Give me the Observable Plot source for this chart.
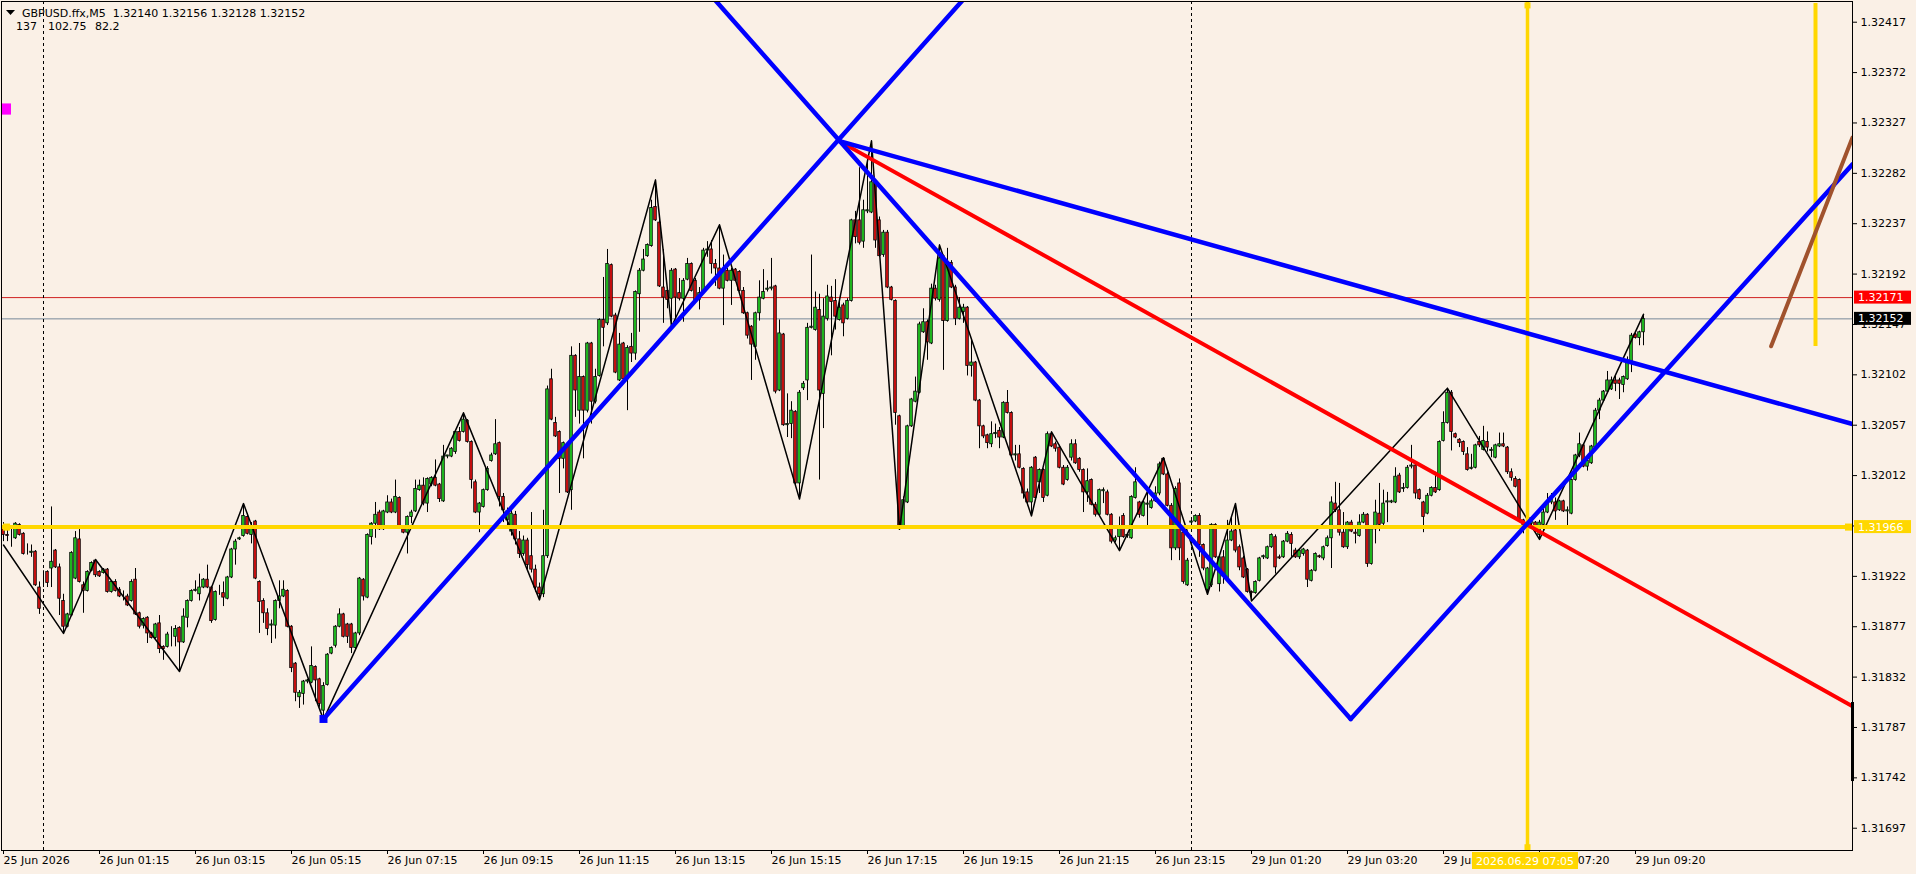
<!DOCTYPE html>
<html><head><meta charset="utf-8">
<script src="https://cdn.jsdelivr.net/npm/d3@7"></script>
<script src="https://cdn.jsdelivr.net/npm/@observablehq/plot@0.6"></script>
<style>
html,body{margin:0;padding:0;background:#FAF0E6;}
#chart{width:1916px;height:874px;overflow:hidden;}
</style></head><body><div id="chart"></div>
<script>
// Prices are stored as points (0.00001) above BASE
const BASE = 1.317;
const OPEN = [264,259,256,256,268,260,243,243,244,212,
226,226,229,245,230,200,177,187,220,255,
214,209,227,236,226,225,228,208,217,210,
204,204,200,219,189,178,185,171,167,180,
159,159,169,168,176,163,185,200,209,206,
212,219,212,183,207,207,202,221,246,255,
258,275,259,271,217,200,189,178,178,200,
204,209,177,144,114,117,128,127,141,130,
102,125,153,160,177,188,179,179,158,171,
219,203,257,269,279,264,279,288,279,292,
264,261,275,280,299,303,287,304,310,304,
289,329,329,333,351,351,361,342,306,279,
284,299,325,331,341,293,272,262,277,255,
242,254,240,228,212,206,240,398,359,351,
327,339,299,419,370,400,370,430,378,401,
451,448,500,455,397,430,398,427,421,474,
495,508,517,552,538,480,477,470,496,475,
470,487,501,486,469,475,513,514,501,497,
479,495,486,496,494,477,457,445,427,457,
470,478,479,481,388,438,357,358,369,305,
390,397,444,442,460,385,452,471,468,451,
464,452,468,540,540,521,548,547,574,540,
509,529,480,468,365,266,288,356,378,386,
440,449,430,479,469,508,450,502,480,452,
458,462,410,413,379,356,348,340,349,352,
346,377,368,330,331,318,297,288,328,306,
317,294,349,340,337,319,308,328,340,327,
317,297,308,286,277,298,297,277,254,257,
276,258,256,292,288,276,286,283,289,296,
327,313,285,247,305,261,214,270,271,276,
250,210,214,268,215,239,220,254,263,248,
238,228,208,207,218,239,238,248,257,239,
239,253,259,245,239,242,245,218,227,240,
238,249,256,287,281,261,248,270,261,258,
270,277,233,264,278,269,288,288,288,312,
300,301,320,321,299,288,278,294,301,299,
343,359,386,349,344,342,331,318,319,342,
335,342,334,328,338,340,337,315,309,308,
272,269,269,270,259,268,279,288,288,281,
289,280,278,308,330,339,320,323,337,370,
379,387,389,397,397,393,398,414,438,435,
440];
const HIGH = [270,263,267,270,269,261,251,250,245,217,
227,227,284,246,233,206,189,244,262,266,
217,227,235,237,227,229,229,218,219,212,
209,206,219,229,190,185,186,172,180,187,
160,172,177,178,177,193,201,210,218,224,
220,232,213,209,214,217,222,247,255,257,
287,278,270,272,218,202,193,183,201,218,
218,210,178,145,120,129,130,159,142,131,
127,153,159,178,193,189,180,180,172,221,
220,260,270,288,281,281,294,291,308,293,
266,276,281,308,308,310,310,311,326,305,
339,330,337,352,355,368,362,343,308,288,
300,320,332,362,342,296,283,282,280,262,
258,256,279,232,216,281,392,407,364,352,
342,340,427,420,430,401,431,431,407,452,
489,514,501,457,439,431,428,439,477,497,
514,519,558,576,540,514,478,497,497,488,
488,506,502,488,480,515,521,522,505,536,
509,497,497,497,495,480,458,446,458,486,
496,486,506,482,451,439,385,378,370,388,
396,448,509,476,474,470,482,481,487,467,
466,470,541,548,587,558,596,611,576,543,
531,531,481,469,366,293,357,381,400,449,
461,451,483,482,518,509,515,504,482,471,
465,463,434,414,380,357,349,360,358,355,
378,388,369,339,339,319,300,320,329,318,
318,351,351,342,339,321,321,344,344,328,
318,318,309,288,300,301,299,278,258,275,
278,260,294,319,289,290,300,291,302,324,
328,315,287,302,309,263,238,272,277,278,
251,230,269,269,241,245,272,275,287,250,
240,229,209,218,239,241,249,260,259,241,
254,262,261,247,246,247,246,228,243,241,
249,258,293,306,305,279,271,272,266,277,
279,278,265,290,305,299,297,290,319,314,
305,321,339,322,300,289,296,302,315,343,
369,390,388,350,345,343,337,331,340,347,
356,351,337,340,350,350,338,318,311,309,
273,275,275,271,272,282,296,296,292,290,
290,284,309,331,350,340,326,339,372,381,
388,405,400,401,399,401,418,439,439,441,
456];
const LOW = [253,253,248,255,258,241,241,239,213,188,
212,212,212,229,187,171,176,186,219,216,
189,208,226,221,221,224,207,207,208,203,
200,195,199,187,175,175,162,166,166,153,
147,158,159,159,137,162,176,199,208,200,
211,211,180,182,205,195,201,220,232,254,
257,259,251,219,171,180,169,162,166,193,
203,176,136,110,104,107,126,126,110,105,
94,124,152,158,176,167,162,153,156,169,
200,202,250,256,263,263,278,278,278,265,
260,242,269,279,298,285,279,302,302,288,
288,327,328,331,342,350,341,300,278,261,
283,298,324,330,284,270,266,258,250,238,
240,228,225,208,201,203,238,361,346,296,
318,296,281,364,358,327,368,358,376,400,
427,446,453,403,396,397,370,413,415,440,
494,507,516,539,480,448,461,445,451,468,
449,486,476,467,460,474,507,492,481,478,
446,485,464,485,476,456,434,397,415,450,
469,476,477,385,387,356,346,345,303,291,
388,379,443,441,308,354,450,419,442,450,
436,451,467,519,518,515,546,546,515,507,
507,479,468,357,264,264,287,355,377,385,
439,415,429,468,467,406,449,479,446,451,
448,401,400,378,336,345,336,337,345,336,
345,367,329,325,318,291,285,276,290,296,
288,293,337,333,318,303,307,325,322,315,
279,288,285,275,276,287,276,251,252,245,
256,256,255,291,274,275,267,282,288,294,
312,284,236,245,236,215,213,269,270,239,
227,206,212,238,208,215,218,253,243,227,
220,207,200,206,217,237,237,247,224,237,
238,252,239,238,237,240,212,217,226,238,
236,248,229,279,258,247,246,261,251,257,
269,230,232,251,262,267,270,287,287,296,
297,300,318,291,290,261,277,293,296,298,
342,358,334,345,337,330,316,317,318,337,
334,333,328,327,337,337,313,307,301,270,
260,260,267,261,255,262,278,286,272,280,
279,266,277,307,328,319,316,322,336,362,
378,386,388,387,380,386,397,404,434,428,
428];
const CLOSE = [259,258,256,269,259,242,243,244,214,193,
226,216,235,230,202,177,188,243,256,217,
209,226,234,223,222,228,208,217,209,204,
204,196,217,188,177,184,171,167,179,157,
157,170,169,175,163,186,200,209,210,212,
219,212,182,208,207,203,221,246,253,256,
276,260,267,220,199,189,175,179,200,204,
210,177,140,118,118,128,129,142,129,108,
124,152,158,177,188,168,168,158,171,220,
204,259,269,277,264,280,288,279,293,266,
261,275,279,300,303,287,309,310,303,291,
329,330,336,351,343,362,342,308,279,287,
299,318,330,340,293,281,280,278,255,242,
254,232,228,212,206,240,389,362,347,327,
341,297,419,388,400,370,430,378,400,451,
444,501,454,404,429,398,426,421,476,495,
505,518,551,540,481,471,469,495,471,470,
486,501,477,468,475,513,514,501,497,479,
494,486,495,486,477,457,437,429,457,471,
476,479,480,387,439,357,358,370,305,386,
394,444,445,462,388,454,472,467,454,462,
448,468,540,525,520,549,549,574,522,508,
529,480,469,368,267,290,356,380,387,447,
449,431,479,470,506,450,501,480,452,462,
462,410,413,379,356,347,341,349,350,346,
377,368,330,331,319,296,288,319,292,317,
292,349,338,336,319,304,319,340,323,317,
297,307,286,277,299,299,277,253,256,267,
257,259,293,306,277,288,287,289,296,322,
313,285,247,300,247,217,236,271,276,250,
229,229,268,239,239,222,254,262,245,230,
221,208,207,217,238,240,248,259,230,238,
253,260,251,239,245,246,219,227,242,239,
248,256,288,281,261,248,270,262,260,270,
277,233,264,279,268,287,289,289,311,297,
301,319,321,296,291,275,294,301,297,342,
359,386,351,346,341,333,317,319,339,339,
343,337,335,339,340,338,315,310,302,273,
268,268,274,263,270,279,288,293,280,289,
280,281,308,330,340,320,325,338,370,379,
387,397,397,394,394,400,415,437,435,440,
452];

// ZigZag indicator vertices (bar index, points above BASE)
const ZIG_BAR = [0,15,23,44,60,80,115,134,163,167,179,199,217,224,234,257,262,279,290,301,308,312,361,384,410];
const ZIG_PTS = [250,171,237,137,287,94,368,201,576,445,536,291,611,264,518,276,351,245,328,206,287,200,390,255,456];

// Drawn trend lines (bar index, points above BASE)
const BLUE_A_BAR = [80, 240],       BLUE_A_PTS = [94.6, 737.5];
const BLUE_B_BAR = [177.5, 336.8],  BLUE_B_PTS = [738.4, 94.6];
const BLUE_C_BAR = [336.8, 462.25], BLUE_C_PTS = [94.6, 590];
const BLUE_D_BAR = [208.8, 462.25], BLUE_D_PTS = [611, 358];
const RED_BAR    = [208.8, 462.25], RED_PTS    = [611, 106];
const BROWN_BAR  = [441.9, 462.25], BROWN_PTS  = [427.5, 614];

// Horizontal / vertical objects
const HLINE_GOLD = 1.31966;
const HLINE_RED = 1.32171;
const BID = 1.32152;
const VLINE_BAR = 381;
const VLINE_LABEL = "2026.06.29 07:05";
const VSHORT_BAR = 453, VSHORT_PTS = [733.7, 427.3];
const EDGE_MARK_BAR = 462.25, EDGE_MARK_PTS = [109.3, 38.7];
const SEPARATORS = [10, 297];
const MAGENTA_BAR = [-0.5, 2], MAGENTA_PTS = [634, 644];

// Axes
const PRICE_TICKS = [1.32417,1.32372,1.32327,1.32282,1.32237,1.32192,1.32147,1.32102,1.32057,1.32012,1.31967,1.31922,1.31877,1.31832,1.31787,1.31742,1.31697];
const TIME_TICKS = [0,24,48,72,96,120,144,168,192,216,240,264,288,312,336,360,384,408];
const TIME_LABELS = ["25 Jun 2026","26 Jun 01:15","26 Jun 03:15","26 Jun 05:15","26 Jun 07:15","26 Jun 09:15","26 Jun 11:15","26 Jun 13:15","26 Jun 15:15","26 Jun 17:15","26 Jun 19:15","26 Jun 21:15","26 Jun 23:15","29 Jun 01:20","29 Jun 03:20","29 Jun 05:20","29 Jun 07:20","29 Jun 09:20"];

// Header
const HEADER_1 = "GBPUSD.ffx,M5  1.32140 1.32156 1.32128 1.32152";
const HEADER_2 = ["137", "102.75", "82.2"];

const px = v => BASE + v / 1e5;
const bars = OPEN.map((o, i) => ({i, o: px(o), h: px(HIGH[i]), l: px(LOW[i]), c: px(CLOSE[i])}));
const pts = (B, P) => B.map((k, j) => ({k, p: px(P[j])}));
const zig = pts(ZIG_BAR, ZIG_PTS);

const GOLD = "#FFD700", BLUE = "#0000FF", RED = "#FF0000", BROWN = "#A0522D";

const chart = Plot.plot({
  width: 1916, height: 874,
  marginLeft: 1, marginRight: 64, marginTop: 1, marginBottom: 24,
  style: {background: "#FAF0E6", fontFamily: "DejaVu Sans", fontSize: "11px", color: "#000", overflow: "visible"},
  x: {type: "linear", domain: [-0.5, 462.25]},
  y: {type: "linear", domain: [px(-22.9), px(735.5)]},
  marks: [
    Plot.ruleY([HLINE_RED], {stroke: "#D02020", strokeWidth: 1}),
    Plot.ruleY([BID], {stroke: "#778899", strokeWidth: 1}),
    Plot.ruleX(SEPARATORS, {stroke: "#000", strokeWidth: 1, strokeDasharray: "3,3"}),
    Plot.rect([0], {x1: () => MAGENTA_BAR[0], x2: () => MAGENTA_BAR[1], y1: () => px(MAGENTA_PTS[0]), y2: () => px(MAGENTA_PTS[1]), fill: "#FF00FF"}),
    Plot.ruleX(bars, {x: "i", y1: "l", y2: "h", stroke: "#000", strokeWidth: 1}),
    Plot.rect(bars, {x1: d => d.i - 0.32, x2: d => d.i + 0.32, y1: "o", y2: "c",
      fill: d => d.c >= d.o ? "#22CC22" : "#DD1111", stroke: "#000", strokeWidth: 0.8}),
    Plot.line(zig, {x: "k", y: "p", stroke: "#000", strokeWidth: 1.5}),
    Plot.ruleY([HLINE_GOLD], {stroke: GOLD, strokeWidth: 4}),
    Plot.ruleX([VLINE_BAR], {stroke: GOLD, strokeWidth: 3.5}),
    Plot.ruleX([VSHORT_BAR], {y1: () => px(VSHORT_PTS[0]), y2: () => px(VSHORT_PTS[1]), stroke: GOLD, strokeWidth: 4}),
    Plot.line(pts(RED_BAR, RED_PTS), {x: "k", y: "p", stroke: RED, strokeWidth: 4, clip: true}),
    Plot.line(pts(BLUE_A_BAR, BLUE_A_PTS), {x: "k", y: "p", stroke: BLUE, strokeWidth: 4.5, clip: true}),
    Plot.line(pts(BLUE_B_BAR, BLUE_B_PTS), {x: "k", y: "p", stroke: BLUE, strokeWidth: 4.5, clip: true}),
    Plot.line(pts(BLUE_C_BAR, BLUE_C_PTS), {x: "k", y: "p", stroke: BLUE, strokeWidth: 4.5, clip: true}),
    Plot.line(pts(BLUE_D_BAR, BLUE_D_PTS), {x: "k", y: "p", stroke: BLUE, strokeWidth: 4.5, clip: true}),
    Plot.line(pts(BROWN_BAR, BROWN_PTS), {x: "k", y: "p", stroke: BROWN, strokeWidth: 4, clip: true}),
    Plot.dot(pts([80], [94.6]), {x: "k", y: "p", symbol: "square", r: 4.5, fill: BLUE}),
    Plot.dot(pts([0.75, 461.25], [266, 266]), {x: "k", y: "p", symbol: "square", r: 4, fill: GOLD}),
    Plot.dot(pts([VLINE_BAR, VLINE_BAR], [732, -20]), {x: "k", y: "p", symbol: "square", r: 3.4, fill: GOLD}),
    Plot.ruleX([EDGE_MARK_BAR], {y1: () => px(EDGE_MARK_PTS[0]), y2: () => px(EDGE_MARK_PTS[1]), stroke: "#000", strokeWidth: 3}),
    Plot.frame({stroke: "#000", strokeWidth: 1}),
    Plot.axisY(PRICE_TICKS, {anchor: "right", tickSize: 4, tickPadding: 4, label: null, fontSize: 11,
      tickFormat: d => d.toFixed(5)}),
    Plot.axisX(TIME_TICKS, {anchor: "bottom", tickSize: 4, tickPadding: 2, label: null, fontSize: 11,
      textAnchor: "start", tickFormat: d => TIME_LABELS[TIME_TICKS.indexOf(d)]})
  ]
});

document.getElementById("chart").appendChild(chart);

const ys = chart.scale("y"), xs = chart.scale("x");
const svg = d3.select(chart);
const g = svg.append("g").attr("font-family", "DejaVu Sans").attr("font-size", 11).attr("text-anchor", "start");

// price labels on the right axis
function priceBox(value, bg) {
  const yy = ys.apply(value);
  g.append("rect").attr("x", 1854).attr("y", yy - 6.5).attr("width", 57).attr("height", 13).attr("fill", bg);
  g.append("text").attr("x", 1858).attr("y", yy).attr("dy", "0.36em").attr("text-anchor", "start").attr("fill", "#fff").text(value.toFixed(5));
}
priceBox(HLINE_RED, "#FF0000");
priceBox(BID, "#000000");
priceBox(HLINE_GOLD, GOLD);

// time label of vertical line
const vx = xs.apply(VLINE_BAR);
g.append("rect").attr("x", vx - 55).attr("y", 852).attr("width", 106).attr("height", 17).attr("fill", GOLD);
g.append("text").attr("x", vx - 2).attr("y", 861).attr("dy", "0.36em").attr("text-anchor", "middle").attr("fill", "#fff").text(VLINE_LABEL);

// header
g.append("polygon").attr("points", "6,10 15,10 10.5,15").attr("fill", "#000");
g.append("text").attr("x", 22).attr("y", 17).attr("text-anchor", "start").attr("fill", "#000").style("white-space", "pre").attr("xml:space", "preserve").text(HEADER_1);
[16, 48, 95].forEach((xx, j) => g.append("text").attr("x", xx).attr("y", 30).attr("text-anchor", "start").attr("fill", "#000").text(HEADER_2[j]));
</script>
</body></html>
